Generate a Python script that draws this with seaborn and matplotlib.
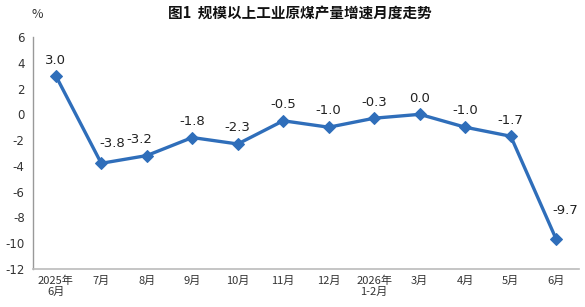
import matplotlib
matplotlib.use("Agg")
import matplotlib.pyplot as plt
import seaborn as sns
import pandas as pd

categories = ["2025年\n6月", "7月", "8月", "9月", "10月", "11月", "12月",
              "2026年\n1-2月", "3月", "4月", "5月", "6月"]
values = [3.0, -3.8, -3.2, -1.8, -2.3, -0.5, -1.0, -0.3, 0.0, -1.0, -1.7, -9.7]
y_ticks = [6, 4, 2, 0, -2, -4, -6, -8, -10, -12]

sns.set_theme(style="white")
plt.rcParams['font.family'] = ['Noto Sans CJK SC', 'DejaVu Sans']

df = pd.DataFrame({"pos": range(len(categories)), "value": values})

fig = plt.figure(figsize=(5.85, 3.07), dpi=100)
ax = fig.add_axes([33/585, 1-269/307, (579-33)/585, (269-37)/307])

color = "#2F6EBA"
sns.lineplot(data=df, x="pos", y="value", ax=ax, color=color, linewidth=2.4,
             marker="D", markersize=6.5, markeredgecolor=color, sort=False)

offsets = [(0, 9), (11, 13), (-7, 10), (0, 10), (0, 10), (0, 10), (0, 10),
           (0, 9), (0, 9), (0, 10), (0, 9), (9, 22)]
for i, (v, off) in enumerate(zip(values, offsets)):
    ax.annotate(f"{v:.1f}", (i, v), xytext=off, textcoords="offset pixels",
                ha="center", va="bottom", fontsize=9.5, color="#222222",
                family=['DejaVu Sans'])

ax.set_xlim(-0.5, len(categories) - 0.5)
ax.set_ylim(-12, 6)
ax.set_yticks(y_ticks)
ax.set_yticklabels([str(t) for t in y_ticks], fontsize=8.5, color="#333333",
                   family=['DejaVu Sans'])
ax.set_xticks(range(len(categories)))
ax.set_xticklabels(categories, fontsize=8, color="#333333", linespacing=1.1)
ax.set_xticks([i - 0.5 for i in range(len(categories) + 1)], minor=True)
ax.tick_params(axis="x", which="major", length=0, pad=5)
ax.tick_params(axis="x", which="minor", length=3, direction="in", color="#AAAAAA", width=1)
ax.tick_params(axis="y", which="major", length=3, direction="in", color="#999999", width=1, pad=6)
ax.set_xlabel("")
ax.set_ylabel("")

for s in ["top", "right"]:
    ax.spines[s].set_visible(False)
ax.spines["left"].set_color("#999999")
ax.spines["bottom"].set_color("#BBBBBB")
ax.spines["bottom"].set_linewidth(1.2)
ax.spines["left"].set_linewidth(1)

fig.text(300/585, 1-14/307, "图1  规模以上工业原煤产量增速月度走势", ha="center", va="center",
         fontsize=10.5, fontweight="bold", color="#111111")
fig.text(37/585, 1-14/307, "%", ha="center", va="center", fontsize=9, color="#333333")

fig.savefig("out.png", dpi=100)
